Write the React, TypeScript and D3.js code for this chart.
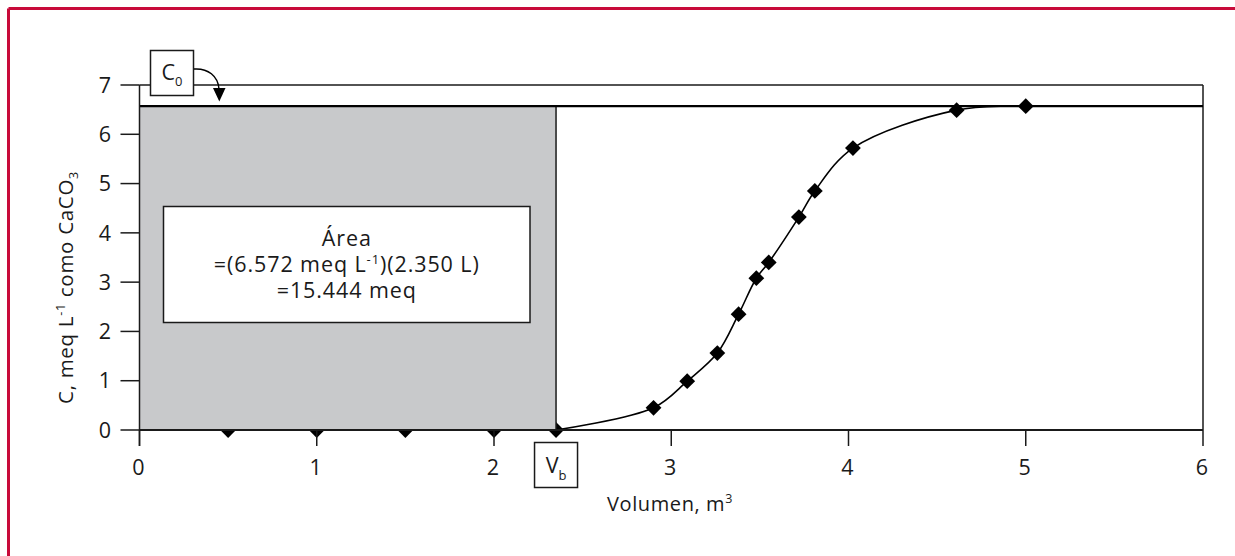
import React from "react";
import * as d3 from "d3";

const volumes = [0.5, 1.0, 1.5, 2.0, 2.35, 2.9, 3.09, 3.26, 3.38, 3.48, 3.55, 3.72, 3.81, 4.025, 4.61, 5.0];
const concentrations = [0, 0, 0, 0, 0, 0.45, 0.99, 1.56, 2.35, 3.08, 3.4, 4.32, 4.85, 5.72, 6.49, 6.57];
const xTicks = [0, 1, 2, 3, 4, 5, 6];
const yTicks = [0, 1, 2, 3, 4, 5, 6, 7];
const C0 = 6.572;
const Vb = 2.35;
const areaLines = ["Área", "=(6.572 meq L", "=15.444 meq"];

const W = 1235;
const H = 556;
const FONT = "'Open Sans', 'Noto Sans', sans-serif";
const INK = "#1a1a1a";
const BORDER = "#c80a3a";
const GRAY = "#c8c9cb";

export default function App() {
  const x = d3.scaleLinear().domain([0, 6]).range([139.5, 1203]);
  const y = d3.scaleLinear().domain([0, 7]).range([430, 85]);

  const pts = volumes.map((v, i) => ({ v, c: concentrations[i] }));
  const curvePts = pts.filter((p) => p.v >= Vb);
  const line = d3
    .line<{ v: number; c: number }>()
    .x((d) => x(d.v))
    .y((d) => y(d.c))
    .curve(d3.curveCatmullRom.alpha(0.5));
  const diamond = d3.symbol().type(d3.symbolSquare).size(125)();

  const x0 = x(0);
  const x6 = x(6);
  const y0 = y(0);
  const y7 = y(7);
  const xVb = x(Vb);
  const yC0 = y(C0);

  const boxX1 = 163.5;
  const boxX2 = 530;
  const boxY1 = 206.5;
  const boxY2 = 322.5;
  const boxCx = (boxX1 + boxX2) / 2;

  return (
    <svg
      width={W}
      height={H}
      style={{ position: "absolute", left: 0, top: 0, background: "#fff" }}
      fontFamily={FONT}
    >
      <rect x={0} y={0} width={W} height={H} fill="#fff" />
      {/* page border (top & left) */}
      <line x1={8.5} y1={8.5} x2={W} y2={8.5} stroke={BORDER} strokeWidth={3} />
      <line x1={8.5} y1={8.5} x2={8.5} y2={H} stroke={BORDER} strokeWidth={3} />

      {/* frame top & right */}
      <line x1={x0} y1={y7} x2={x6} y2={y7} stroke={INK} strokeWidth={1.5} />
      <line x1={x6} y1={y7} x2={x6} y2={y0} stroke={INK} strokeWidth={1.5} />

      {/* markers */}
      {pts.map((p, i) => (
        <path
          key={i}
          d={diamond as string}
          transform={`translate(${x(p.v)},${y(p.c)}) rotate(45)`}
          fill="#000"
        />
      ))}

      {/* shaded area */}
      <rect x={x0} y={yC0} width={xVb - x0} height={y0 - yC0} fill={GRAY} />
      <line x1={xVb} y1={yC0} x2={xVb} y2={y0} stroke={INK} strokeWidth={1.5} />
      <line x1={x0} y1={yC0} x2={x6} y2={yC0} stroke="#000" strokeWidth={2.2} />

      {/* breakthrough curve */}
      <path d={line(curvePts) || ""} fill="none" stroke="#000" strokeWidth={1.6} />

      {/* axes */}
      <line x1={x0} y1={y0} x2={x6} y2={y0} stroke={INK} strokeWidth={2} />
      <line x1={x0} y1={y7} x2={x0} y2={y0 + 16} stroke={INK} strokeWidth={1.5} />
      {xTicks.map((t) => (
        <g key={"xt" + t}>
          <line x1={x(t)} y1={y0} x2={x(t)} y2={y0 + 16} stroke={INK} strokeWidth={1.5} />
          <text x={x(t) - 1} y={475} textAnchor="middle" fontSize={21.5} fill={INK}>
            {t}
          </text>
        </g>
      ))}
      {yTicks.map((t) => (
        <g key={"yt" + t}>
          <line x1={x0 - 19} y1={y(t)} x2={x0} y2={y(t)} stroke={INK} strokeWidth={1.5} />
          <text x={111} y={y(t)} dy="0.36em" textAnchor="end" fontSize={21.5} fill={INK}>
            {t}
          </text>
        </g>
      ))}

      {/* axis titles */}
      <text x={670} y={511} textAnchor="middle" fontSize={20} fill={INK} letterSpacing={0.6}>
        Volumen, m
        <tspan fontSize={12.5} dy={-8}>
          3
        </tspan>
      </text>
      <text
        transform="translate(73,287.5) rotate(-90)"
        textAnchor="middle"
        fontSize={20.5}
        fill={INK}
        letterSpacing={0.7}
      >
        C, meq L
        <tspan fontSize={12.5} dy={-8}>
          -1
        </tspan>
        <tspan dy={8}> como CaCO</tspan>
        <tspan fontSize={12.5} dy={5}>
          3
        </tspan>
      </text>

      {/* area annotation box */}
      <rect
        x={boxX1}
        y={boxY1}
        width={boxX2 - boxX1}
        height={boxY2 - boxY1}
        fill="#fff"
        stroke={INK}
        strokeWidth={1.5}
      />
      <g fontSize={21.5} fill={INK} textAnchor="middle" letterSpacing={0.9}>
        <text x={boxCx} y={246}>
          {areaLines[0]}
        </text>
        <text x={boxCx} y={272}>
          {areaLines[1]}
          <tspan fontSize={13} dy={-8}>
            -1
          </tspan>
          <tspan dy={8}>)(2.350 L)</tspan>
        </text>
        <text x={boxCx} y={298}>
          {areaLines[2]}
        </text>
      </g>

      {/* C0 label */}
      <rect x={150.5} y={50.5} width={43} height={45} fill="#fff" stroke={INK} strokeWidth={1.5} />
      <text x={172} y={80} textAnchor="middle" fontSize={21.5} fill={INK}>
        C
        <tspan fontSize={13} dy={6}>
          0
        </tspan>
      </text>
      <path d="M194,69 C208,68 218,76 219,89" fill="none" stroke="#000" strokeWidth={1.5} />
      <path d="M213,88 L225.5,88 L219.3,101.5 Z" fill="#000" />

      {/* Vb label */}
      <rect x={xVb - 21.5} y={442.5} width={43} height={45} fill="#fff" stroke={INK} strokeWidth={1.5} />
      <text x={xVb} y={473} textAnchor="middle" fontSize={21.5} fill={INK}>
        V
        <tspan fontSize={13} dy={7}>
          b
        </tspan>
      </text>
    </svg>
  );
}
